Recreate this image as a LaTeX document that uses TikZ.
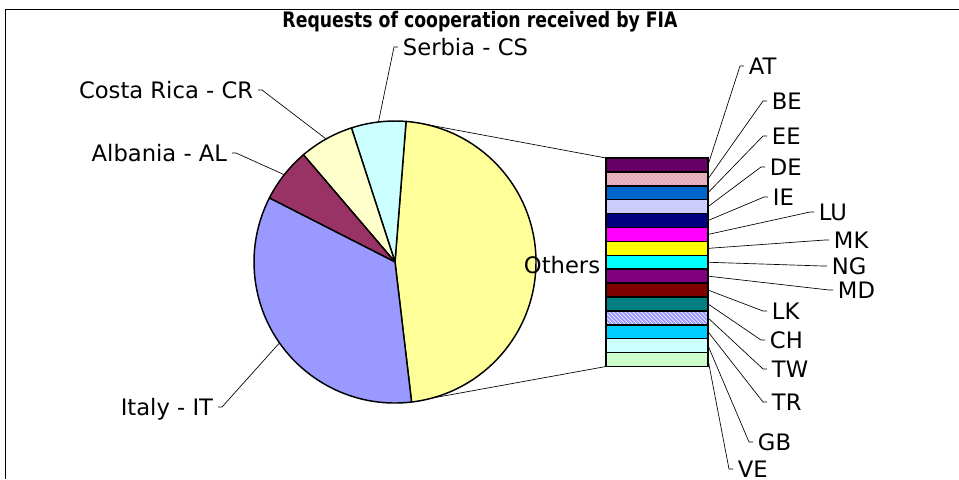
\documentclass[tikz,border=0pt]{standalone}
\usepackage{graphicx}
\usepackage{fontspec}
\setmainfont{DejaVu Sans}
\usetikzlibrary{patterns}

\definecolor{otcol}{HTML}{FFFF99}
\definecolor{cscol}{HTML}{CCFFFF}
\definecolor{crcol}{HTML}{FFFFCC}
\definecolor{alcol}{HTML}{993366}
\definecolor{itcol}{HTML}{9999FF}
\definecolor{atcol}{HTML}{660066}
\definecolor{becol}{HTML}{EDB8C6}
\definecolor{bedot}{HTML}{B97A8C}
\definecolor{eecol}{HTML}{0066CC}
\definecolor{decol}{HTML}{CCCCFF}
\definecolor{iecol}{HTML}{000080}
\definecolor{lucol}{HTML}{FF00FF}
\definecolor{mkcol}{HTML}{FFFF00}
\definecolor{ngcol}{HTML}{00FFFF}
\definecolor{mdcol}{HTML}{800080}
\definecolor{lkcol}{HTML}{800000}
\definecolor{chcol}{HTML}{008080}
\definecolor{twcol}{HTML}{9999FF}
\definecolor{trcol}{HTML}{00CCFF}
\definecolor{gbcol}{HTML}{CCFFFF}
\definecolor{vecol}{HTML}{CCFFCC}

\begin{document}
\begin{tikzpicture}[x=0.75pt,y=-0.75pt,
  slice/.style={draw=black,line width=1.1pt,line join=round},
  seg/.style={draw=black,line width=1.1pt,minimum width=76.5pt,minimum height=10.4pt,inner sep=0pt,outer sep=0pt},
  lab/.style={font=\fontsize{17}{19}\selectfont,inner sep=3.5pt,text height=12.3pt,text depth=0pt},
  lead/.style={draw=black,line width=0.5pt}]
\useasboundingbox (0,0) rectangle (959,479);
\draw[line width=1.2pt] (5.5,479) |- (959,9.5);
\node[font=\bfseries\fontsize{16}{18}\selectfont] (title) at (480,22) {\scalebox{0.81}[1]{Requests of cooperation received by FIA}};

% pie
\coordinate (ctr) at (395,262);
\foreach \lo/\hi/\col in {-83.25/85.5/otcol, 85.5/108/cscol, 108/130.5/crcol, 130.5/153/alcol, 153/276.75/itcol}
  \filldraw[slice,fill=\col] (ctr) -- ++(-\hi:141) arc[start angle=-\hi,end angle=-\lo,radius=141] -- cycle;
\path (ctr) ++(-96.75:141) coordinate (csP);
\path (ctr) ++(-119.25:141) coordinate (crP);
\path (ctr) ++(-141.75:141) coordinate (alP);
\path (ctr) ++(-215:141) coordinate (itP);
\path (ctr) ++(-78:141) coordinate (otT);
\path (ctr) ++(75:141) coordinate (otB);

% bar of others
\foreach \lab/\col/\lx/\ly [count=\i] in {AT/atcol/744/66, BE/becol/767/101, EE/eecol/767/136, DE/decol/765/167, IE/iecol/768/197, LU/lucol/814/212, MK/mkcol/829/240, NG/ngcol/827/266, MD/mdcol/833/290, LK/lkcol/767/311, CH/chcol/765/340, TW/twcol/767/369, TR/trcol/767/402, GB/gbcol/753/442, VE/vecol/733/469}{
  \node[seg,fill=\col] (s\i) at (657,{158+13.9*(\i-0.5)}) {};
  \node[lab,anchor=west] (l\i) at (\lx,\ly) {\lab};
  \draw[lead] (s\i.east) -- ([xshift=-3pt]l\i.west) -- (l\i.west);
}
\foreach \k/\pat/\pc in {2/crosshatch dots/bedot, 12/north west lines/white}
  \draw[line width=1.1pt,pattern=\pat,pattern color=\pc] (s\k.south west) rectangle (s\k.north east);
\draw[lead] (otT) -- (s1.north west);
\draw[lead] (otB) -- (s15.south west);

% labels
\node[lab] (ot) at (562,265) {Others};
\node[lab,anchor=west] (cs) at (398,47) {Serbia - CS};
\node[lab,anchor=east] (cr) at (258,90) {Costa Rica - CR};
\node[lab,anchor=east] (al) at (232,153) {Albania - AL};
\node[lab,anchor=east] (it) at (218,407) {Italy - IT};
\draw[lead] (csP) -- ([xshift=-3pt]cs.west) -- (cs.west);
\draw[lead] (crP) -- ([xshift=3pt]cr.east) -- (cr.east);
\draw[lead] (alP) -- ([xshift=3pt]al.east) -- (al.east);
\draw[lead] (itP) -- ([xshift=3pt]it.east) -- (it.east);
\end{tikzpicture}
\end{document}
